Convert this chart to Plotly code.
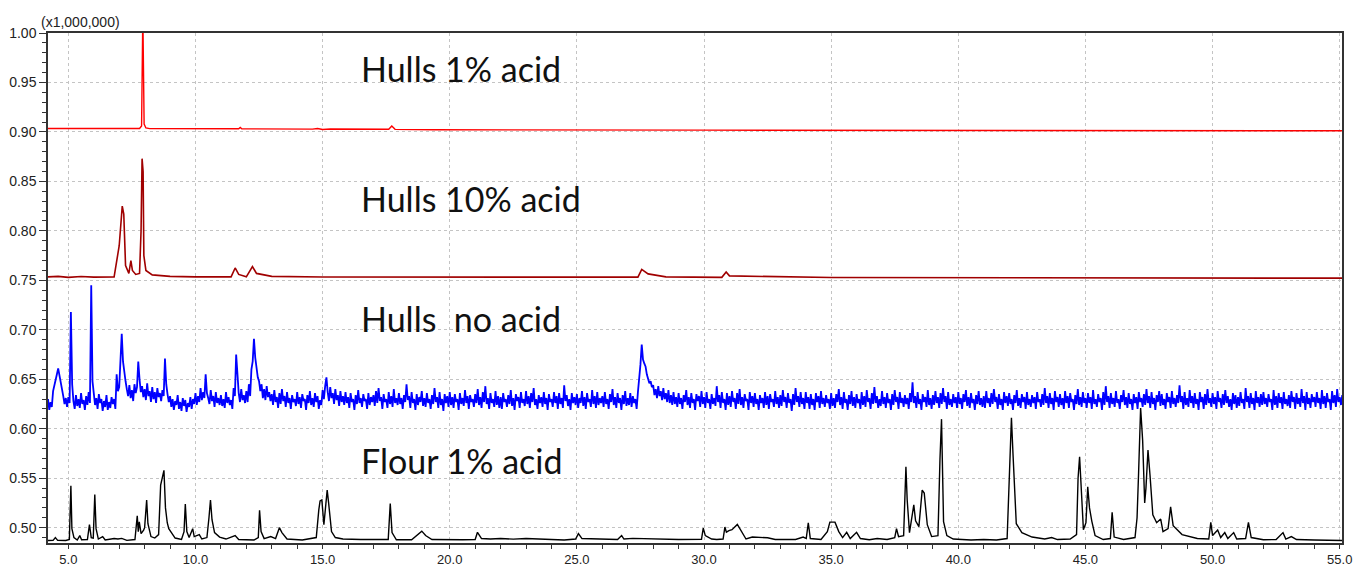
import numpy as np
import plotly.graph_objects as go

# ---------------- data ----------------
# Hulls 1% acid (red), intensity in units of 1,000,000 counts
red_t = [4.2, 7.80, 7.88, 7.93, 7.98, 8.05, 8.2, 11.7, 11.76, 11.82, 14.6, 14.8, 15.0, 15.3,
         17.6, 17.72, 17.85, 19.4, 30.0, 55.1]
red_y = [0.9035, 0.9035, 0.906, 1.02, 0.908, 0.904, 0.9033, 0.9032, 0.9045, 0.9032, 0.9028,
         0.9035, 0.9025, 0.9030, 0.9027, 0.906, 0.9026, 0.9022, 0.9018, 0.9012]

# Hulls 10% acid (dark red)
dred_t = [4.2, 4.6, 5.0, 5.5, 6.0, 6.5, 6.8, 7.0, 7.12, 7.18, 7.25, 7.38, 7.46, 7.52, 7.65, 7.8,
          7.86, 7.9, 7.94, 7.97, 8.05, 8.3, 9.0, 10.0, 11.4, 11.56, 11.7, 12.0, 12.24, 12.4,
          13.0, 15.0, 20.0, 25.0, 27.4, 27.55, 27.8, 28.5, 30.7, 30.87, 31.0, 35.0, 45.0, 55.1]
dred_y = [0.7535, 0.7540, 0.7530, 0.7538, 0.7532, 0.7536, 0.7535, 0.785, 0.825, 0.817, 0.765,
          0.757, 0.770, 0.760, 0.756, 0.757, 0.800, 0.873, 0.860, 0.775, 0.760, 0.7555, 0.754,
          0.7535, 0.7535, 0.7625, 0.756, 0.7535, 0.764, 0.757, 0.754, 0.7533, 0.7532, 0.7530,
          0.7532, 0.761, 0.7565, 0.7535, 0.7530, 0.7585, 0.7545, 0.7528, 0.7525, 0.7522]

# Hulls no acid (blue): one row per minute (starting at 4 min), 20 readings per row
# (every 0.05 min), in units of 1,000 counts
blue_first_minute = 4
blue_rows = [
    [629, 621, 633, 624, 630, 619, 627, 622, 638, 645, 650, 655, 661, 655, 647, 640, 633, 625, 631, 622],
    [632, 626, 718, 645, 628, 620, 634, 623, 630, 621, 636, 625, 629, 619, 633, 624, 637, 626, 745, 648],
    [636, 624, 631, 620, 635, 626, 630, 618, 628, 622, 634, 619, 627, 621, 632, 625, 630, 620, 655, 638],
    [642, 665, 696, 668, 655, 648, 640, 633, 644, 631, 639, 628, 645, 636, 642, 668, 650, 637, 643, 632],
    [640, 629, 646, 633, 638, 627, 642, 630, 637, 626, 641, 632, 636, 628, 639, 633, 671, 645, 635, 627],
    [633, 622, 630, 619, 628, 624, 634, 620, 627, 618, 631, 623, 629, 617, 626, 622, 632, 620, 630, 625],
    [636, 624, 633, 627, 641, 629, 637, 631, 655, 636, 631, 625, 639, 628, 633, 622, 637, 626, 631, 624],
    [634, 623, 630, 621, 637, 626, 632, 624, 629, 620, 641, 633, 675, 650, 636, 627, 640, 629, 634, 626],
    [638, 627, 645, 633, 660, 668, 691, 672, 660, 652, 648, 638, 645, 631, 640, 629, 643, 632, 637, 628],
    [635, 624, 639, 627, 632, 621, 636, 625, 640, 628, 633, 622, 637, 626, 631, 620, 634, 627, 630, 623],
    [637, 625, 632, 621, 635, 628, 630, 619, 634, 626, 638, 624, 631, 622, 636, 627, 633, 620, 629, 624],
    [639, 630, 643, 652, 637, 628, 642, 631, 636, 625, 640, 629, 634, 623, 638, 627, 633, 624, 637, 626],
    [632, 621, 636, 627, 630, 619, 634, 625, 639, 626, 631, 622, 635, 628, 630, 620, 636, 624, 632, 627],
    [634, 623, 638, 626, 641, 628, 632, 620, 635, 627, 630, 621, 637, 625, 633, 622, 640, 626, 631, 624],
    [636, 625, 631, 620, 634, 627, 645, 629, 633, 621, 637, 626, 630, 619, 635, 624, 632, 627, 638, 623],
    [631, 622, 636, 626, 630, 620, 634, 625, 641, 627, 632, 621, 637, 624, 630, 618, 635, 626, 633, 622],
    [637, 624, 632, 621, 635, 627, 630, 619, 636, 625, 631, 623, 639, 626, 633, 620, 634, 627, 630, 622],
    [635, 626, 640, 624, 632, 621, 637, 627, 643, 625, 631, 620, 636, 626, 630, 622, 638, 624, 633, 621],
    [632, 620, 636, 627, 630, 622, 634, 625, 639, 623, 631, 619, 635, 628, 632, 621, 637, 626, 630, 623],
    [638, 625, 633, 621, 636, 627, 641, 624, 630, 620, 634, 626, 632, 622, 637, 625, 631, 619, 635, 627],
    [630, 622, 637, 626, 633, 620, 636, 625, 631, 621, 644, 628, 634, 623, 630, 619, 636, 626, 632, 624],
    [635, 621, 631, 626, 638, 623, 632, 620, 636, 627, 630, 622, 639, 625, 633, 621, 637, 624, 631, 626],
    [633, 622, 637, 625, 630, 620, 635, 627, 640, 624, 632, 621, 636, 626, 631, 619, 634, 625, 638, 623],
    [631, 624, 636, 622, 633, 626, 630, 620, 637, 648, 665, 685, 670, 666, 663, 655, 650, 646, 648, 642],
    [644, 634, 640, 631, 643, 633, 638, 629, 641, 630, 636, 627, 639, 626, 634, 624, 637, 625, 632, 622],
    [636, 625, 631, 620, 634, 627, 639, 624, 632, 621, 636, 626, 630, 619, 635, 628, 633, 622, 638, 625],
    [632, 621, 637, 626, 630, 620, 635, 625, 631, 623, 643, 627, 634, 621, 637, 626, 630, 619, 636, 624],
    [633, 622, 638, 627, 631, 620, 636, 625, 640, 624, 632, 621, 635, 628, 630, 619, 637, 626, 633, 622],
    [636, 625, 630, 619, 634, 626, 631, 621, 637, 624, 633, 620, 635, 627, 630, 622, 638, 625, 632, 621],
    [634, 623, 639, 627, 632, 621, 636, 626, 630, 618, 635, 624, 641, 627, 633, 622, 637, 625, 631, 620],
    [637, 626, 632, 620, 635, 624, 630, 619, 636, 627, 633, 621, 638, 625, 631, 622, 634, 626, 630, 620],
    [636, 623, 631, 621, 635, 627, 640, 624, 632, 620, 637, 626, 630, 619, 634, 625, 638, 623, 632, 621],
    [635, 626, 630, 620, 637, 624, 633, 622, 639, 627, 631, 620, 636, 625, 642, 626, 633, 621, 630, 623],
    [638, 625, 632, 621, 636, 626, 630, 619, 635, 624, 639, 627, 632, 620, 637, 626, 631, 622, 634, 625],
    [631, 620, 636, 627, 647, 626, 633, 621, 637, 625, 630, 619, 635, 627, 632, 622, 639, 624, 631, 620],
    [634, 624, 638, 626, 632, 621, 636, 625, 641, 627, 633, 620, 637, 624, 630, 622, 635, 626, 632, 621],
    [637, 625, 631, 620, 635, 627, 639, 623, 632, 621, 636, 626, 630, 619, 634, 625, 638, 624, 631, 622],
    [633, 621, 638, 626, 631, 622, 636, 625, 640, 627, 632, 620, 635, 624, 630, 619, 637, 626, 633, 623],
    [636, 625, 630, 619, 634, 626, 639, 623, 631, 621, 635, 627, 632, 620, 637, 624, 630, 622, 634, 626],
    [632, 620, 637, 627, 630, 622, 635, 624, 641, 626, 633, 621, 636, 625, 631, 619, 638, 627, 632, 622],
    [635, 624, 631, 620, 638, 626, 633, 621, 636, 627, 630, 619, 634, 625, 640, 624, 632, 622, 637, 626],
    [631, 621, 636, 626, 632, 620, 639, 625, 630, 622, 635, 627, 631, 619, 637, 624, 643, 627, 633, 621],
    [636, 625, 631, 622, 638, 626, 630, 620, 634, 627, 639, 624, 632, 621, 636, 625, 630, 619, 635, 626],
    [632, 620, 637, 627, 631, 622, 635, 624, 640, 626, 633, 621, 637, 625, 631, 619, 634, 627, 638, 623],
    [635, 624, 630, 620, 636, 627, 632, 621, 638, 625, 631, 622, 634, 626, 644, 627, 633, 620, 637, 624],
    [631, 622, 639, 626, 633, 621, 636, 625, 630, 619, 637, 627, 632, 620, 635, 624, 640, 626, 631, 622],
    [636, 625, 632, 620, 638, 627, 631, 621, 635, 624, 639, 626, 633, 622, 630, 619, 636, 625, 634, 621],
    [632, 623, 637, 626, 630, 620, 641, 627, 633, 621, 636, 625, 631, 619, 638, 626, 632, 622, 635, 624],
    [637, 625, 631, 622, 635, 627, 630, 619, 639, 624, 633, 621, 636, 626, 632, 620, 637, 625, 630, 623],
    [634, 621, 638, 627, 632, 620, 636, 625, 631, 622, 640, 626, 633, 619, 637, 625, 631, 621, 635, 627],
    [632, 622, 637, 626, 631, 620, 639, 625, 633, 621, 636, 627, 630, 619, 638, 626, 634, 622, 640, 627],
    [632, 624, 634],
]

# Flour 1% acid (black)
flour_t = [4.2, 4.4, 4.49, 4.58, 4.9, 5.04, 5.10, 5.14, 5.22, 5.35, 5.45, 5.52, 5.75, 5.83, 5.9,
           5.98, 6.04, 6.09, 6.18, 6.35, 6.45, 6.8, 6.95, 7.1, 7.3, 7.62, 7.71, 7.75, 7.79, 7.86,
           7.96, 8.0, 8.08, 8.13, 8.25, 8.4, 8.55, 8.63, 8.76, 8.82, 8.89, 8.95, 9.08, 9.2, 9.45,
           9.55, 9.6, 9.66, 9.75, 9.89, 9.95, 10.15, 10.25, 10.45, 10.53, 10.59, 10.65, 10.75,
           10.95, 11.2, 11.56, 11.7, 12.3, 12.47, 12.52, 12.58, 12.7, 12.96, 13.15, 13.3, 13.4,
           13.6, 14.2, 14.75, 14.85, 14.9, 14.97, 15.05, 15.13, 15.18, 15.24, 15.35, 15.5, 15.8,
           16.5, 17.0, 17.58, 17.66, 17.73, 17.9, 18.5, 18.9, 19.05, 19.3, 20.0, 20.5, 21.0,
           21.09, 21.25, 21.6, 22.0, 22.5, 23.0, 23.5, 24.0, 24.5, 24.95, 25.06, 25.2, 25.6,
           26.0, 26.6, 26.76, 26.85, 27.2, 27.8, 28.5, 29.0, 29.9, 29.97, 30.05, 30.3, 30.5,
           30.75, 30.82, 30.88, 30.98, 31.1, 31.31, 31.5, 31.65, 31.9, 32.2, 32.5, 32.8, 33.2,
           33.6, 33.9, 34.02, 34.1, 34.18, 34.6, 34.85, 34.95, 35.15, 35.3, 35.45, 35.61, 35.75,
           36.0, 36.15, 36.5, 36.81, 37.2, 37.5, 37.57, 37.65, 37.85, 37.94, 37.99, 38.08, 38.25,
           38.32, 38.45, 38.58, 38.66, 38.78, 38.95, 39.2, 39.28, 39.34, 39.42, 39.55, 39.8,
           40.5, 41.0, 41.5, 41.92, 41.99, 42.09, 42.15, 42.28, 42.5, 42.9, 43.4, 43.67, 43.9,
           44.4, 44.65, 44.71, 44.77, 44.83, 44.92, 45.02, 45.09, 45.16, 45.25, 45.38, 45.7,
           45.98, 46.05, 46.13, 46.5, 46.95, 47.03, 47.09, 47.17, 47.25, 47.33, 47.38, 47.46,
           47.54, 47.65, 47.8, 47.96, 48.05, 48.25, 48.35, 48.45, 48.8, 49.4, 49.85, 49.93,
           50.0, 50.2, 50.32, 50.48, 50.6, 50.83, 50.95, 51.3, 51.41, 51.52, 52.0, 52.5, 52.77,
           52.88, 53.1, 53.3, 54.0, 54.5, 55.1]
flour_y = [0.4870, 0.4872, 0.4900, 0.4872, 0.4870, 0.4880, 0.5424, 0.4990, 0.4900, 0.4875,
           0.4920, 0.4878, 0.4880, 0.5030, 0.4900, 0.4895, 0.5336, 0.4990, 0.4885, 0.4910,
           0.4875, 0.4890, 0.4885, 0.4892, 0.4872, 0.4880, 0.5120, 0.4960, 0.5060, 0.4940,
           0.4976, 0.5000, 0.5280, 0.5040, 0.4910, 0.4895, 0.4930, 0.5430, 0.5580, 0.5200,
           0.5050, 0.4990, 0.4940, 0.4895, 0.4880, 0.4960, 0.5240, 0.4960, 0.4900, 0.4990,
           0.4910, 0.4930, 0.4885, 0.4900, 0.5100, 0.5280, 0.5080, 0.4950, 0.4905, 0.4885,
           0.4920, 0.4880, 0.4875, 0.4900, 0.5175, 0.4960, 0.4890, 0.4910, 0.4890, 0.5000,
           0.4950, 0.4885, 0.4875, 0.4900, 0.5180, 0.5270, 0.5280, 0.5030, 0.5245, 0.5380,
           0.5240, 0.4960, 0.4900, 0.4885, 0.4880, 0.4878, 0.4880, 0.5245, 0.4950, 0.4878,
           0.4878, 0.4965, 0.4920, 0.4880, 0.4875, 0.4878, 0.4880, 0.4953, 0.4890, 0.4885,
           0.4890, 0.4884, 0.4890, 0.4885, 0.4878, 0.4875, 0.4885, 0.4940, 0.4890, 0.4888,
           0.4882, 0.4880, 0.4920, 0.4885, 0.4892, 0.4888, 0.4884, 0.4880, 0.4882, 0.4995,
           0.4920, 0.4885, 0.4880, 0.4885, 0.5006, 0.4955, 0.4970, 0.4980, 0.5033, 0.4950,
           0.4885, 0.4905, 0.4905, 0.4898, 0.4880, 0.4878, 0.4880, 0.4905, 0.4890, 0.5050,
           0.4890, 0.4880, 0.4960, 0.5056, 0.5056, 0.4960, 0.4900, 0.4953, 0.4890, 0.4953,
           0.4890, 0.4878, 0.4890, 0.4880, 0.4900, 0.4990, 0.4910, 0.4920, 0.5616, 0.5280,
           0.4950, 0.5230, 0.5070, 0.5010, 0.5380, 0.5350, 0.5030, 0.4910, 0.4920, 0.5700,
           0.6097, 0.5060, 0.4920, 0.4885, 0.4875, 0.4880, 0.4875, 0.4890, 0.5430, 0.6110,
           0.5750, 0.5040, 0.4950, 0.4905, 0.4885, 0.4900, 0.4880, 0.4885, 0.4930, 0.5500,
           0.5717, 0.5420, 0.4980, 0.5050, 0.5414, 0.5200, 0.5067, 0.4920, 0.4880, 0.4890,
           0.5155, 0.4905, 0.4880, 0.4900, 0.5100, 0.5550, 0.6210, 0.5880, 0.5250, 0.5400,
           0.5784, 0.5530, 0.5130, 0.5050, 0.5087, 0.4960, 0.4990, 0.5210, 0.5020, 0.4930,
           0.4890, 0.4885, 0.5053, 0.4920, 0.4977, 0.4900, 0.4950, 0.4890, 0.4950, 0.4885,
           0.4890, 0.5053, 0.4900, 0.4878, 0.4880, 0.4950, 0.4885, 0.4910, 0.4880, 0.4875,
           0.4872, 0.4870]

labels = ["Hulls 1% acid", "Hulls 10% acid", "Hulls\u00a0 no acid", "Flour 1% acid"]
label_y = [0.964, 0.8326, 0.7114, 0.568]
label_x = 16.45

x_ticks = [5.0, 10.0, 15.0, 20.0, 25.0, 30.0, 35.0, 40.0, 45.0, 50.0, 55.0]
y_ticks = [0.50, 0.55, 0.60, 0.65, 0.70, 0.75, 0.80, 0.85, 0.90, 0.95, 1.00]

# ---------------- figure ----------------
blue_t, blue_y = [], []
for k, row in enumerate(blue_rows):
    for j, v in enumerate(row):
        blue_t.append(round(blue_first_minute + k + 0.05 * j, 3))
        blue_y.append(v / 1000.0)

fig = go.Figure()
fig.add_trace(go.Scatter(x=flour_t, y=flour_y, mode="lines",
                         line=dict(color="#000000", width=1.4), hoverinfo="skip"))
fig.add_trace(go.Scatter(x=blue_t, y=blue_y, mode="lines",
                         line=dict(color="#0000ff", width=1.8), hoverinfo="skip"))
fig.add_trace(go.Scatter(x=dred_t, y=dred_y, mode="lines",
                         line=dict(color="#a00000", width=1.6), hoverinfo="skip"))
fig.add_trace(go.Scatter(x=red_t, y=red_y, mode="lines",
                         line=dict(color="#ff0000", width=1.4), hoverinfo="skip"))

for txt, yy in zip(labels, label_y):
    fig.add_annotation(x=label_x, y=yy, xref="x", yref="y", text=txt, showarrow=False,
                       xanchor="left", yanchor="middle",
                       font=dict(family="Lato, Open Sans, sans-serif", size=34, color="#111111"))

fig.add_annotation(x=-0.007, y=1.0, xref="paper", yref="paper", text="(x1,000,000)",
                   showarrow=False, xanchor="left", yanchor="bottom", yshift=1,
                   font=dict(family="Liberation Sans, Arial, sans-serif", size=14, color="#222222"))

axis_font = dict(family="Liberation Sans, Arial, sans-serif", size=14, color="#222222")
x_font = dict(family="Liberation Sans, Arial, sans-serif", size=13, color="#222222")
grid_dash = "3px,3px"
fig.update_xaxes(range=[4.2, 55.09], tickvals=x_ticks, ticktext=[f"{v:.1f}" for v in x_ticks],
                 ticks="outside", ticklen=4, tickcolor="#333333", tickfont=x_font,
                 showgrid=True, gridcolor="#c4c4c4", griddash=grid_dash, gridwidth=1,
                 showline=True, linecolor="#333333", linewidth=1.5, mirror=True, zeroline=False,
                 automargin=False,
                 minor=dict(dtick=1, tick0=0, ticks="outside", ticklen=4, tickcolor="#333333",
                            showgrid=False))
fig.update_yaxes(range=[0.4845, 1.0], tickvals=y_ticks, ticktext=[f"{v:.2f}" for v in y_ticks],
                 ticks="outside", ticklen=7, tickcolor="#333333", tickfont=axis_font,
                 showgrid=True, gridcolor="#c4c4c4", griddash=grid_dash, gridwidth=1,
                 showline=True, linecolor="#333333", linewidth=1.5, mirror=True, zeroline=False,
                 automargin=False,
                 minor=dict(dtick=0.01, tick0=0, ticks="outside", ticklen=4, tickcolor="#333333",
                            showgrid=False))

fig.update_layout(width=1354, height=568, showlegend=False,
                  margin=dict(l=48, r=12, t=33, b=25, autoexpand=False),
                  paper_bgcolor="white", plot_bgcolor="white")

fig.write_html("out.html")
